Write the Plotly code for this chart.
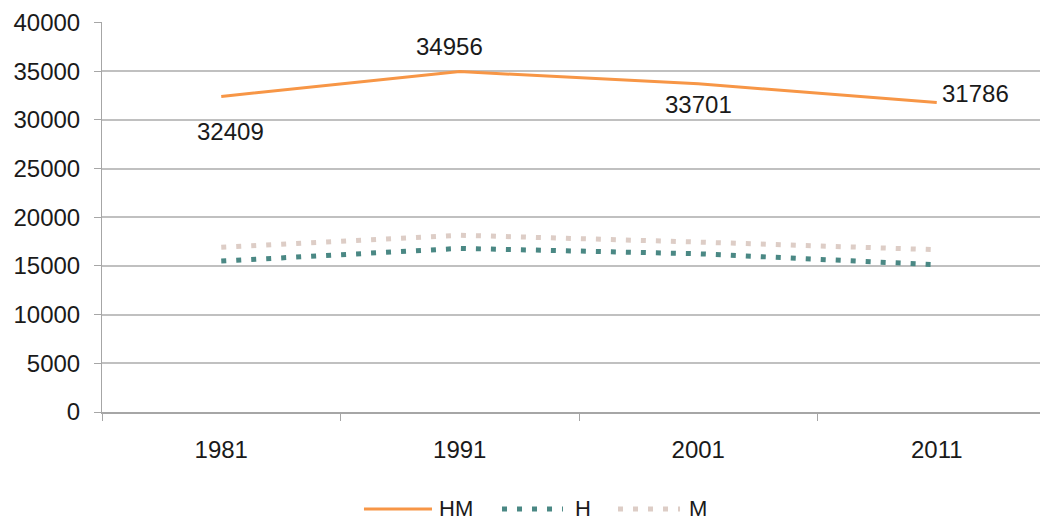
import plotly.graph_objects as go

years = ["1981", "1991", "2001", "2011"]
hm = [32409, 34956, 33701, 31786]
h = [15500, 16800, 16250, 15120]
m = [16909, 18156, 17451, 16666]
series_names = ["HM", "H", "M"]

FONT = "Liberation Sans, Arial, sans-serif"
TXT = "#1a1a1a"

styles = [
    dict(color="#f79646", width=3),
    dict(color="#4a8884", width=5, dash="5px,10px"),
    dict(color="#ddcdc6", width=5, dash="5px,10px"),
]

fig = go.Figure()
for name, vals, st in zip(series_names, [hm, h, m], styles):
    fig.add_trace(go.Scatter(x=years, y=vals, name=name, mode="lines",
                             line=st, showlegend=False))

# data labels (Excel-like placement)
label_style = [
    dict(xanchor="center", yanchor="middle", xshift=9, yshift=-35),
    dict(xanchor="center", yanchor="middle", xshift=-10, yshift=25),
    dict(xanchor="center", yanchor="middle", xshift=0, yshift=-21),
    dict(xanchor="left", yanchor="middle", xshift=3, yshift=9),
]
for i, (v, st) in enumerate(zip(hm, label_style)):
    fig.add_annotation(x=i, y=v, xref="x", yref="y", text=str(v), showarrow=False,
                       font=dict(family=FONT, size=24, color=TXT), **st)

# custom legend (long line samples like Excel), paper coordinates
leg_y = -0.2487
leg_items = [(0.2746, 0.3459, 0.3512), (0.4193, 0.4832, 0.4937), (0.5409, 0.6059, 0.6132)]
for name, st, (x0, x1, xt) in zip(series_names, styles, leg_items):
    fig.add_shape(type="line", xref="paper", yref="paper", x0=x0, x1=x1,
                  y0=leg_y, y1=leg_y, line=st)
    fig.add_annotation(x=xt, y=leg_y, xref="paper", yref="paper", text=name,
                       showarrow=False, xanchor="left", yanchor="middle",
                       font=dict(family=FONT, size=22, color=TXT))

fig.update_layout(
    width=1048, height=522,
    margin=dict(l=94, r=0, t=14, b=118, autoexpand=False),
    paper_bgcolor="white", plot_bgcolor="white",
    font=dict(family=FONT, size=24, color=TXT),
    showlegend=False,
)
fig.update_xaxes(type="category", range=[-0.5, 3.5], automargin=False,
                 showline=True, linecolor="#a6a6a6", linewidth=2,
                 ticks="outside", tickson="boundaries", ticklen=7,
                 tickcolor="#a6a6a6", showgrid=False,
                 ticklabelstandoff=15,
                 tickfont=dict(size=24))
fig.update_yaxes(range=[0, 40050], tick0=0, dtick=5000, tickformat="d", automargin=False,
                 showline=True, linecolor="#a6a6a6", linewidth=1,
                 ticks="outside", ticklen=7, tickcolor="#a6a6a6",
                 ticklabelstandoff=9, ticklabeloverflow="allow",
                 showgrid=True, gridcolor="#c0c0c0", gridwidth=2,
                 zeroline=False, tickfont=dict(size=24))

fig.write_html("out.html")
